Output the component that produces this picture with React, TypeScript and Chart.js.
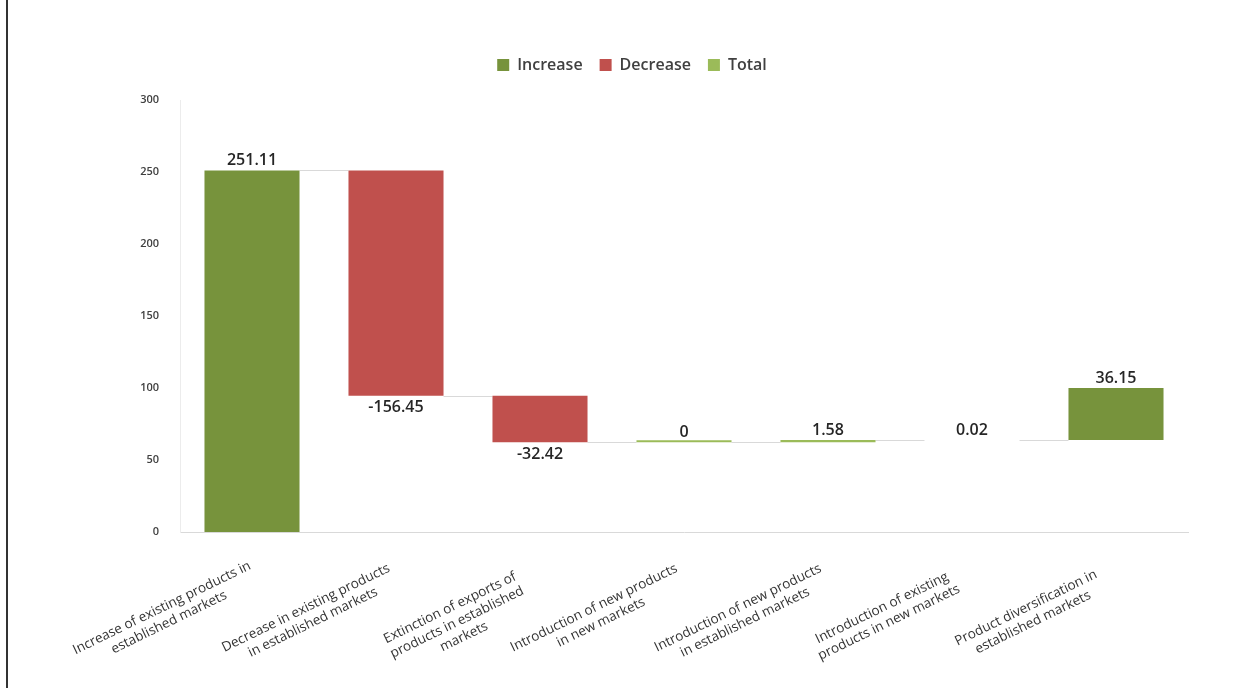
import React, { useEffect, useRef } from 'react';
import { Chart, registerables } from 'chart.js';

Chart.register(...registerables);

// Category names, split into the lines they are printed on
const categories: string[][] = [
  ['Increase of existing products in', 'established markets'],
  ['Decrease in existing products', 'in established markets'],
  ['Extinction of exports of', 'products in established', 'markets'],
  ['Introduction of new products', 'in new markets'],
  ['Introduction of new products', 'in established markets'],
  ['Introduction of existing', 'products in new markets'],
  ['Product diversification in', 'established markets'],
];

// Change contributed by each step of the waterfall
const changes: number[] = [251.11, -156.45, -32.42, 0, 1.58, 0.02, 36.15];

// Which legend series each step belongs to
const stepKinds: string[] = ['Increase', 'Decrease', 'Decrease', 'Total', 'Total', 'Increase', 'Increase'];

const seriesNames: string[] = ['Increase', 'Decrease', 'Total'];
const seriesColors: string[] = ['#77933C', '#C0504D', '#9BBB59'];

const yMin = 0;
const yMax = 300;
const yStep = 50;

// Floating [start, end] range of every step, accumulated from the changes
const stepRanges: [number, number][] = [];
{
  let running = 0;
  for (const c of changes) {
    stepRanges.push([running, running + c]);
    running += c;
  }
}

const FONT = '"Open Sans", "DejaVu Sans", sans-serif';

function barFor(chart: any, index: number) {
  for (let d = 0; d < chart.data.datasets.length; d++) {
    if (chart.data.datasets[d].data[index] != null) {
      return chart.getDatasetMeta(d).data[index];
    }
  }
  return null;
}

// Gives the legend a fixed block of height so the plot starts where wanted
const legendBlock = {
  id: 'legendBlock',
  beforeLayout(chart: any) {
    const lg = chart.legend;
    if (lg && !lg.__fixed) {
      const fit = lg.fit;
      lg.fit = function () {
        fit.call(this);
        this.height = 60;
      };
      lg.__fixed = true;
    }
  },
};

// Connector lines between consecutive steps
const connectors = {
  id: 'connectors',
  beforeDatasetsDraw(chart: any) {
    const ctx = chart.ctx;
    const y = chart.scales.y;
    ctx.save();
    ctx.strokeStyle = '#d9d9d9';
    ctx.lineWidth = 1;
    for (let i = 0; i < stepRanges.length - 1; i++) {
      const a = barFor(chart, i);
      const b = barFor(chart, i + 1);
      if (!a || !b) continue;
      const py = Math.round(y.getPixelForValue(stepRanges[i][1])) + 0.5;
      ctx.beginPath();
      ctx.moveTo(a.x + a.width / 2, py);
      ctx.lineTo(b.x - b.width / 2, py);
      ctx.stroke();
    }
    ctx.restore();
  },
};

// Value labels on the steps and the slanted category labels under the axis
const annotations = {
  id: 'annotations',
  afterDraw(chart: any) {
    const ctx = chart.ctx;
    const y = chart.scales.y;
    const x = chart.scales.x;
    ctx.save();
    ctx.font = `600 16px ${FONT}`;
    ctx.fillStyle = '#262626';
    ctx.textAlign = 'center';
    stepRanges.forEach((r, i) => {
      const bar = barFor(chart, i);
      if (!bar) return;
      const hi = Math.max(r[0], r[1]);
      const lo = Math.min(r[0], r[1]);
      if (changes[i] >= 0) {
        ctx.textBaseline = 'bottom';
        ctx.fillText(String(changes[i]), bar.x, y.getPixelForValue(hi) - 2);
      } else {
        ctx.textBaseline = 'top';
        ctx.fillText(String(changes[i]), bar.x, y.getPixelForValue(lo) + 4);
      }
    });

    ctx.font = `13.5px ${FONT}`;
    ctx.fillStyle = '#333333';
    ctx.textBaseline = 'middle';
    const angle = (-26 * Math.PI) / 180;
    categories.forEach((lines, i) => {
      const tx = x.getPixelForTick(i);
      ctx.save();
      ctx.translate(tx - 90, chart.chartArea.bottom + 76);
      ctx.rotate(angle);
      lines.forEach((ln, j) => ctx.fillText(ln, 0, j * 16));
      ctx.restore();
    });
    ctx.restore();
  },
};

export default function App() {
  const canvasRef = useRef<HTMLCanvasElement | null>(null);

  useEffect(() => {
    const canvas = canvasRef.current;
    if (!canvas) return;
    const datasets = seriesNames.map((name, s) => ({
      label: name,
      data: stepRanges.map((r, i) => (stepKinds[i] === name ? r : null)),
      backgroundColor: seriesColors[s],
      borderWidth: 0,
      grouped: false,
      barPercentage: 0.66,
      categoryPercentage: 1,
      minBarLength: name === 'Total' ? 2 : 0,
    }));

    const chart = new Chart(canvas, {
      type: 'bar',
      data: {
        labels: categories.map((c) => c.join(' ')),
        datasets: datasets as any,
      },
      options: {
        animation: false,
        responsive: false,
        devicePixelRatio: 1,
        layout: { padding: { top: 40, left: 76, right: 61, bottom: 0 } },
        plugins: {
          legend: {
            position: 'top',
            labels: {
              boxWidth: 12,
              boxHeight: 12,
              padding: 17,
              color: '#404040',
              font: { family: FONT, size: 16, weight: '600' },
            },
          },
          tooltip: { enabled: false },
        },
        scales: {
          x: {
            grid: { display: false },
            border: { display: true, color: '#d9d9d9' },
            ticks: { display: false },
            afterFit(scale: any) {
              scale.height = 156;
            },
          },
          y: {
            min: yMin,
            max: yMax,
            grid: { display: false },
            border: { display: true, color: '#ececec' },
            ticks: {
              stepSize: yStep,
              padding: 13,
              color: '#404040',
              font: { family: FONT, size: 11, weight: '600' },
            },
            afterFit(scale: any) {
              scale.width = 104;
            },
          },
        },
      },
      plugins: [legendBlock, connectors, annotations],
    });
    return () => chart.destroy();
  }, []);

  return (
    <div
      style={{
        position: 'fixed',
        left: 0,
        top: 0,
        width: 1249,
        height: 688,
        background: '#ffffff',
        overflow: 'hidden',
      }}
    >
      <div style={{ position: 'absolute', left: 6, top: 0, width: 2, height: 688, background: '#333333' }} />
      <canvas ref={canvasRef} width={1249} height={688} style={{ display: 'block' }} />
    </div>
  );
}
